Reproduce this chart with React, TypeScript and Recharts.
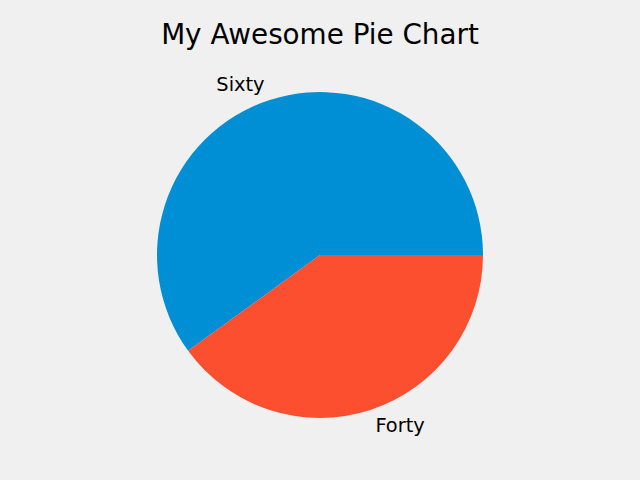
import { Cell, Pie, PieChart } from 'recharts'

const LABELS = ['Sixty', 'Forty']
const VALUES = [60, 40]
const COLORS = ['#008fd5', '#fc4f30']

const BG = '#f0f0f0'
const FONT = 'DejaVu Sans, sans-serif'
const RADIAN = Math.PI / 180

const data = LABELS.map((name, i) => ({ name, value: VALUES[i] }))

function renderLabel(props: any) {
  const { cx, cy, midAngle, outerRadius, name } = props
  const r = outerRadius * 1.1
  const x = cx + r * Math.cos(-midAngle * RADIAN)
  const y = cy + r * Math.sin(-midAngle * RADIAN)
  const anchor = x < cx ? 'end' : 'start'
  return (
    <text
      x={x}
      y={y}
      textAnchor={anchor}
      dominantBaseline="central"
      fill="#000"
      fontSize={19.4}
      fontFamily={FONT}
    >
      {name}
    </text>
  )
}

export default function App() {
  return (
    <div
      style={{
        position: 'absolute',
        left: 0,
        top: 0,
        width: 640,
        height: 480,
        background: BG,
      }}
    >
      <div
        style={{
          position: 'absolute',
          left: 0,
          top: 17,
          width: 640,
          textAlign: 'center',
          fontFamily: FONT,
          fontSize: 27.8,
          lineHeight: '36px',
          color: '#000',
        }}
      >
        My Awesome Pie Chart
      </div>
      <PieChart
        width={640}
        height={480}
        margin={{ top: 0, right: 0, bottom: 0, left: 0 }}
        style={{ position: 'absolute', left: 0, top: 0 }}
      >
        <Pie
          data={data}
          dataKey="value"
          nameKey="name"
          cx={320}
          cy={255}
          outerRadius={163}
          startAngle={0}
          endAngle={360}
          stroke="none"
          label={renderLabel}
          labelLine={false}
          isAnimationActive={false}
        >
          {data.map((_, i) => (
            <Cell key={i} fill={COLORS[i]} />
          ))}
        </Pie>
      </PieChart>
    </div>
  )
}
